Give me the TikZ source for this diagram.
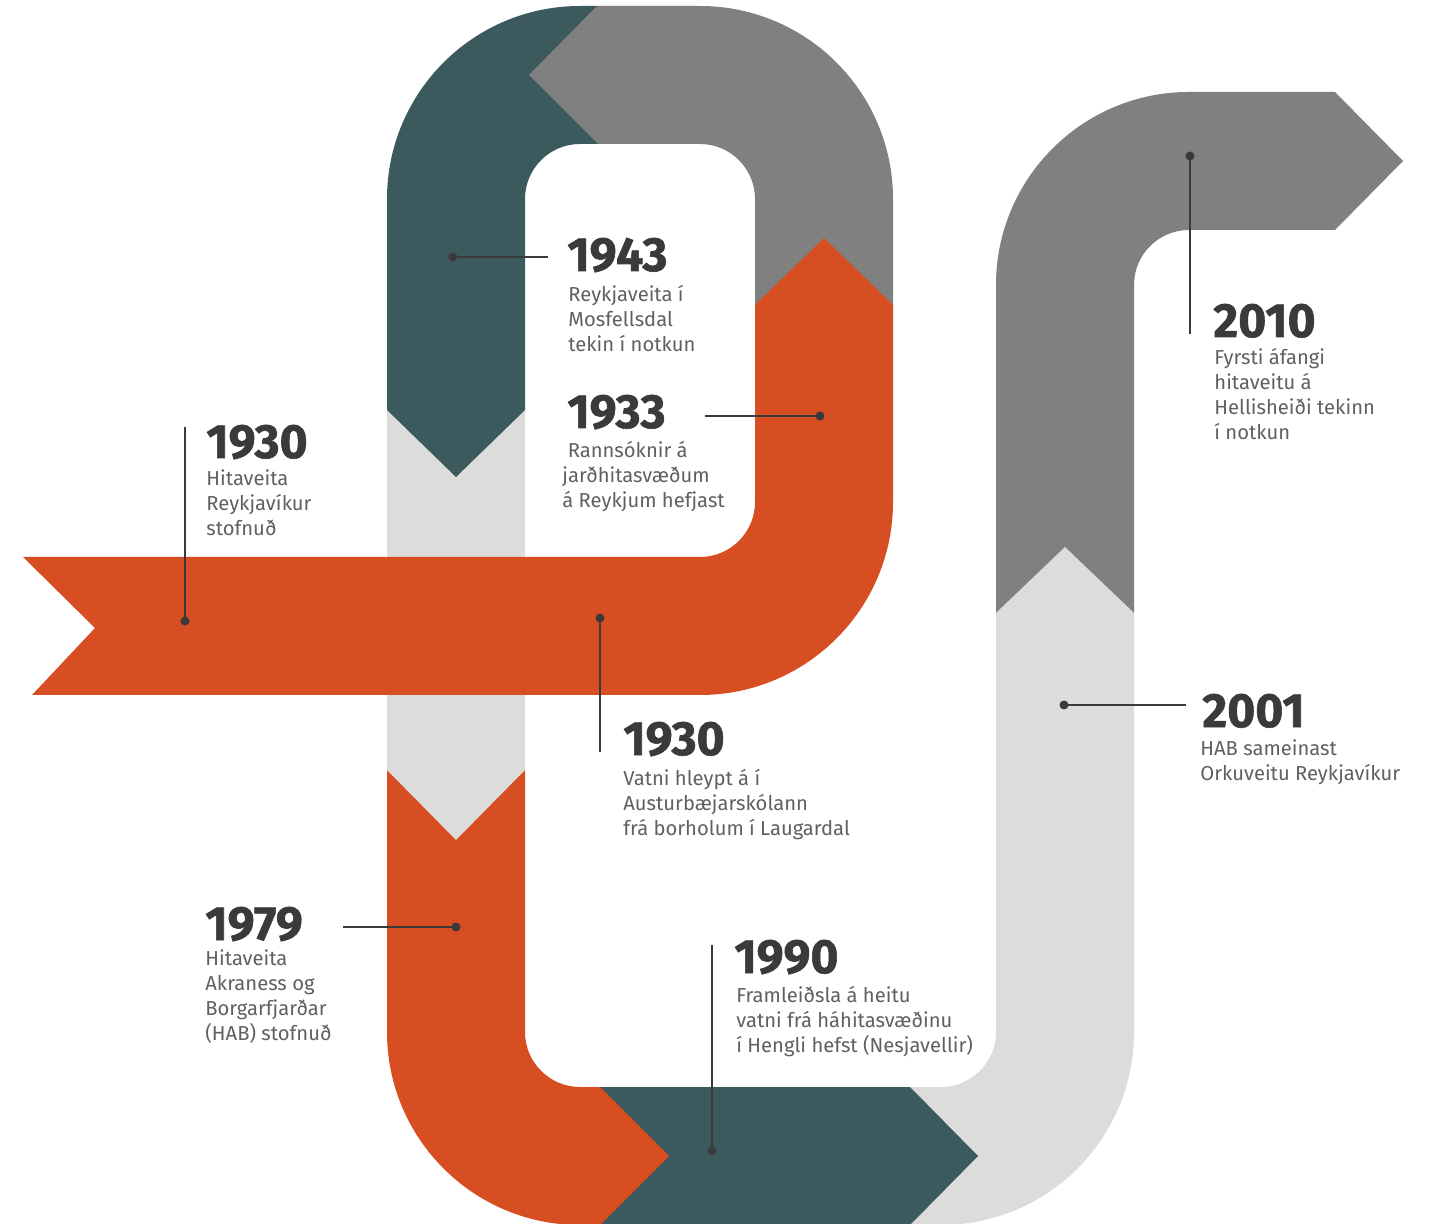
\documentclass[tikz,border=0pt]{standalone}
\usepackage{fontspec}
\setmainfont{Fira Sans}[BoldFeatures={FakeBold=1.2}]

\definecolor{rust}{HTML}{D64E21}
\definecolor{slate}{HTML}{3C5A5D}
\definecolor{stone}{HTML}{808080}
\definecolor{mist}{HTML}{DCDCDA}
\definecolor{ink}{HTML}{3A3A3A}
\definecolor{copy}{HTML}{606060}

\begin{document}
\begin{tikzpicture}[x=0.5pt,y=0.5pt,
    year/.style={anchor=base west, inner sep=0pt, text=ink, font=\fontsize{24}{24}\selectfont\bfseries},
    note/.style={anchor=base west, inner sep=0pt, align=left, text=copy, font=\fontsize{10.1}{12.5}\selectfont},
    dot/.style={circle, fill=ink, inner sep=0pt, minimum size=4.5pt},
    leader/.style={draw=ink, line width=1pt}]
  \path[use as bounding box, fill=white] (0,0) rectangle (1430,-1224);

  % Ribbon, last piece first so each tip lies over the next piece
  \fill[stone] (996,-613) -- (996,-285) arc[start angle=180, end angle=90, radius=193]
    -- (1335,-92) -- (1403,-161) -- (1335,-230) -- (1189,-230)
    arc[start angle=90, end angle=180, radius=55] -- (1134,-613) -- cycle;
  \fill[mist] (910,-1087) -- (941,-1087) arc[start angle=-90, end angle=0, radius=55]
    -- (996,-613) -- (1065,-547) -- (1134,-613) -- (1134,-1032)
    arc[start angle=0, end angle=-90, radius=193] -- (910,-1225) -- cycle;
  \fill[slate] (600,-1087) -- (910,-1087) -- (978,-1156) -- (910,-1225) -- (600,-1225) -- cycle;
  \fill[rust] (387,-770) -- (387,-1032) arc[start angle=180, end angle=270, radius=193]
    -- (600,-1225) -- (669,-1156) -- (600,-1087) -- (580,-1087)
    arc[start angle=270, end angle=180, radius=55] -- (525,-770) -- cycle;
  \fill[mist] (387,-410) -- (387,-770) -- (456,-840) -- (525,-770) -- (525,-410) -- cycle;
  \fill[slate] (598,-6) -- (580,-6) arc[start angle=90, end angle=180, radius=193]
    -- (387,-410) -- (456,-477) -- (525,-410) -- (525,-199)
    arc[start angle=180, end angle=90, radius=55] -- (598,-144) -- cycle;
  \fill[stone] (755,-305) -- (755,-199) arc[start angle=0, end angle=90, radius=55]
    -- (598,-144) -- (529,-75) -- (597,-6) -- (700,-6)
    arc[start angle=90, end angle=0, radius=193] -- (893,-305) -- cycle;
  \fill[rust] (23,-557) -- (95,-628) -- (32,-695) -- (700,-695)
    arc[start angle=-90, end angle=0, radius=193] -- (893,-305) -- (824,-238) -- (755,-305)
    -- (755,-502) arc[start angle=0, end angle=-90, radius=55] -- cycle;

  % Years and notes (a note sits on the baseline of its last line)
  \node[year] (y1930a) at (206,-458) {1930};
  \node[note] (n1930a) at (206,-536) {Hitaveita\\Reykjavíkur\\stofnuð};
  \node[year] (y1930b) at (623,-755) {1930};
  \node[note] (n1930b) at (623,-835) {Vatni hleypt á í\\Austurbæjarskólann\\frá borholum í Laugardal};
  \node[year] (y1933) at (567,-428) {1933};
  \node[note] (n1933) at (562,-508) {\ Rannsóknir á\\jarðhitasvæðum\\á Reykjum hefjast};
  \node[year] (y1943) at (567,-271) {1943};
  \node[note] (n1943) at (568,-352) {Reykjaveita í\\Mosfellsdal\\tekin í notkun};
  \node[year] (y1979) at (205,-940) {1979};
  \node[note] (n1979) at (205,-1040) {Hitaveita\\Akraness og\\Borgarfjarðar\\(HAB) stofnuð};
  \node[year] (y1990) at (734,-973) {1990};
  \node[note] (n1990) at (736,-1052) {Framleiðsla á heitu\\vatni frá háhitasvæðinu\\í Hengli hefst (Nesjavellir)};
  \node[year] (y2001) at (1202,-727) {2001};
  \node[note] (n2001) at (1200,-780) {HAB sameinast\\Orkuveitu Reykjavíkur};
  \node[year] (y2010) at (1213,-337) {2010};
  \node[note] (n2010) at (1214,-440) {Fyrsti áfangi\\hitaveitu á\\Hellisheiði tekinn\\í notkun};

  % Leader lines
  \node[dot] (d1930a) at (185,-621) {};
  \coordinate (e1930a) at (185,-427);
  \node[dot] (d1930b) at (600,-618) {};
  \coordinate (e1930b) at (600,-752);
  \node[dot] (d1933) at (820,-416) {};
  \coordinate (e1933) at (705,-416);
  \node[dot] (d1943) at (453,-257) {};
  \coordinate (e1943) at (548,-257);
  \node[dot] (d1979) at (456,-927) {};
  \coordinate (e1979) at (343,-927);
  \node[dot] (d1990) at (712,-1151) {};
  \coordinate (e1990) at (712,-945);
  \node[dot] (d2001) at (1064,-705) {};
  \coordinate (e2001) at (1186,-705);
  \node[dot] (d2010) at (1190,-156) {};
  \coordinate (e2010) at (1190,-334);
  \foreach \n in {1930a,1930b,1933,1943,1979,1990,2001,2010}
    \draw[leader] (d\n.center) -- (e\n);
\end{tikzpicture}
\end{document}
